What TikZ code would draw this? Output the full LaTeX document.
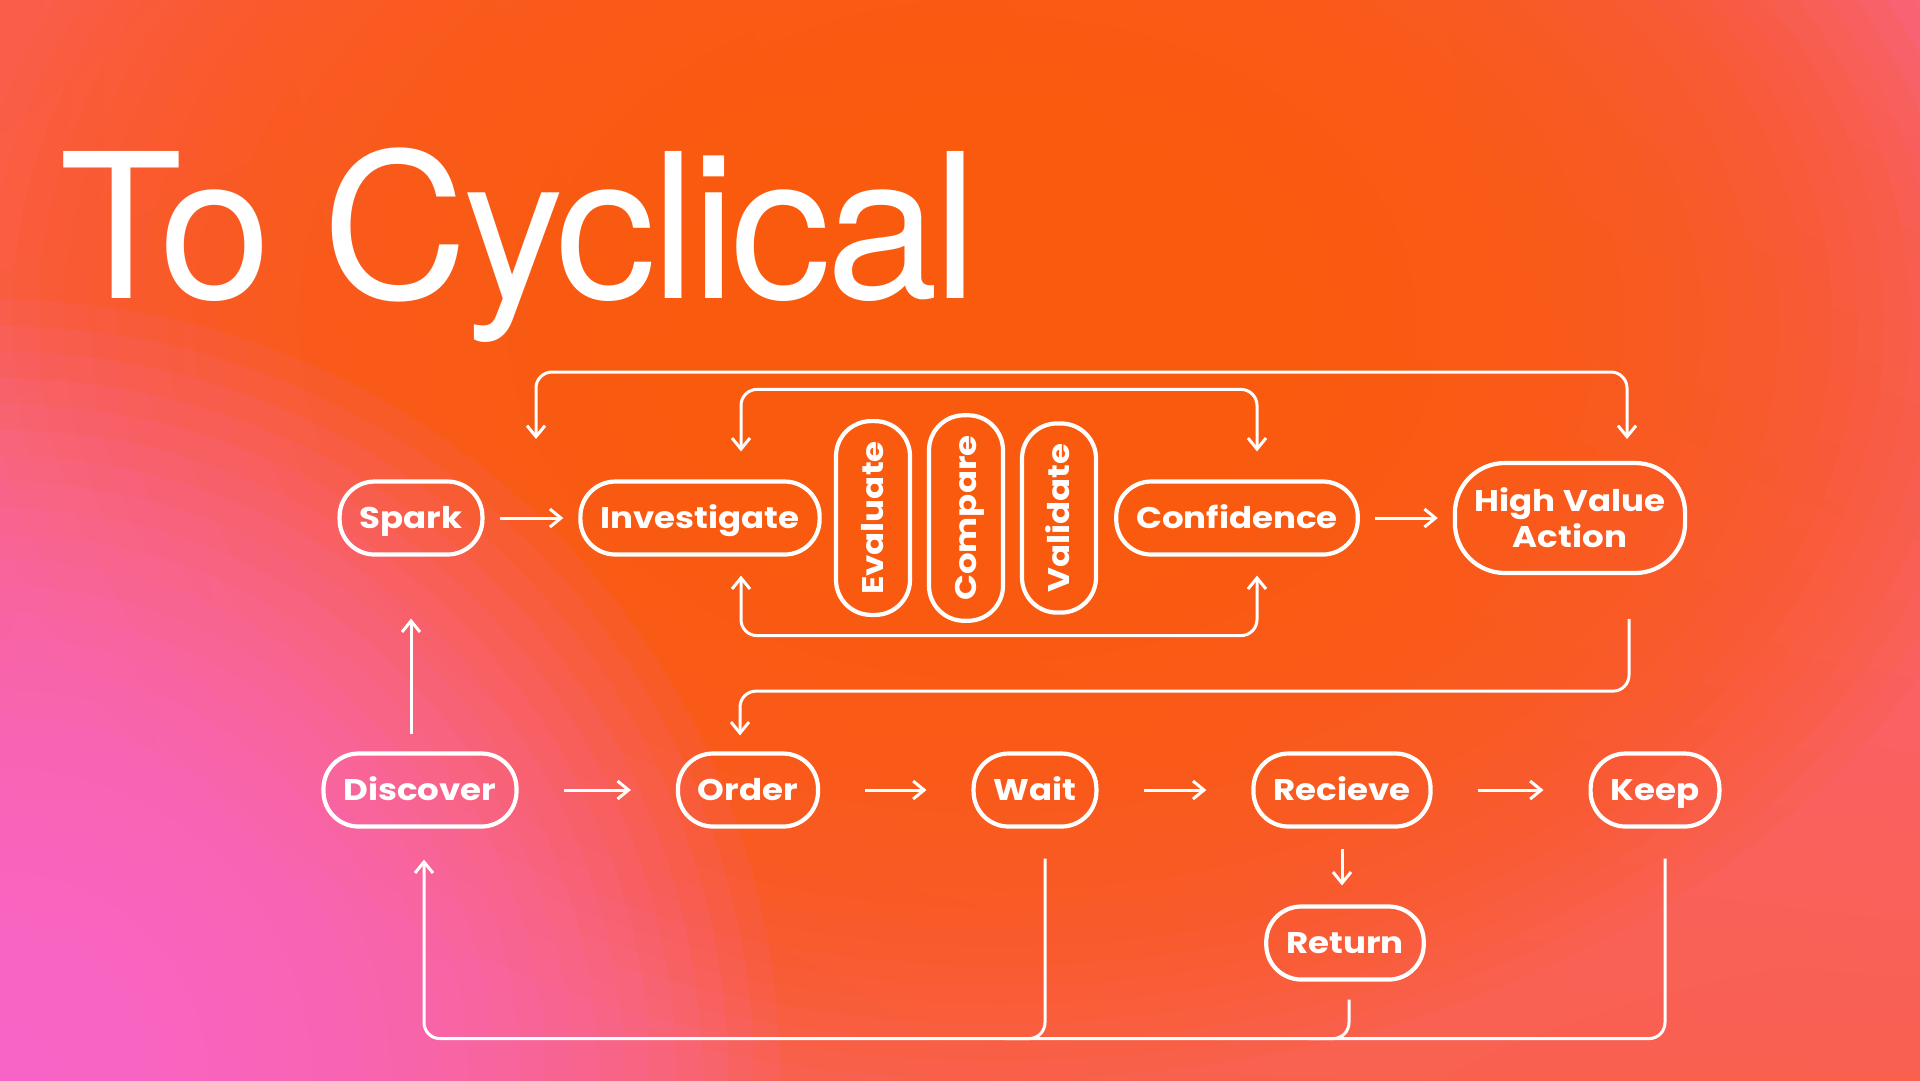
\documentclass[tikz,border=0pt]{standalone}
\usepackage{fontspec}
\usepackage{tikz}
\usetikzlibrary{arrows.meta,shadings}

\newfontfamily\headfont{TeX Gyre Heros}[LetterSpace=-2.5]
\newfontfamily\boxfont{Poppins}[FakeStretch=1.14]

\definecolor{bgtl}{HTML}{FA5E4A}
\definecolor{bgtr}{HTML}{F8648A}
\definecolor{bgbl}{HTML}{F8624E}
\definecolor{bgbr}{HTML}{F96050}
\definecolor{bgorange}{HTML}{FF5A0E}
\definecolor{bgpink}{HTML}{F870D8}

\begin{document}
\begin{tikzpicture}[x=0.1mm, y=-0.1mm, text=white, font=\boxfont\bfseries\fontsize{8.5pt}{10.2pt}\selectfont,
    box/.style = {draw=white, line width=0.42mm, rounded corners=3.5mm, minimum height=7.3mm, inner xsep=2mm, inner ysep=0mm},
    pill/.style = {box, text height=2.1mm, text depth=0mm},
    vpill/.style = {pill, rotate=90, minimum height=7.4mm},
    link/.style = {draw=white, line width=0.3mm, rounded corners=1.6mm},
    arr/.style = {link, -{Straight Barb[length=1.1mm, width=1.8mm]}},
    both/.style = {link, {Straight Barb[length=1.1mm, width=1.8mm]}-{Straight Barb[length=1.1mm, width=1.8mm]}}]
    % background
    \useasboundingbox (0,0) rectangle (1920,1080);
    \begin{scope}
        \clip (0,0) rectangle (1920,1080);
        \shade[upper left=bgtl, upper right=bgtr, lower left=bgbl, lower right=bgbr] (0,0) rectangle (1920,1080);
        \foreach \k in {1,...,40}
            \fill[bgorange, opacity=0.09] (1000,320) ellipse ({26*\k} and {19*\k});
        \foreach \k in {1,...,30}
            \fill[bgpink, opacity=0.08] (0,1080) circle ({26*\k});
    \end{scope}

    \node[anchor=base west, inner sep=0pt, font=\headfont\fontsize{57.4pt}{60pt}\selectfont] (title) at (59,298) {To Cyclical};

    % top row
    \node[pill] (spark) at (411,518) {Spark};
    \node[pill] (investigate) at (700,518) {Investigate};
    \node[vpill] (evaluate) at (873,518) {Evaluate};
    \node[vpill] (compare) at (966,518) {Compare};
    \node[vpill] (validate) at (1059,518) {Validate};
    \node[pill] (confidence) at (1237,518) {Confidence};
    \node[box, minimum height=11mm, rounded corners=5mm, align=center] (hva) at (1570,518) {High Value\\Action};

    % bottom row
    \node[pill] (discover) at (420,790) {Discover};
    \node[pill] (order) at (748,790) {Order};
    \node[pill] (wait) at (1035,790) {Wait};
    \node[pill] (recieve) at (1342,790) {Recieve};
    \node[pill] (keep) at (1655,790) {Keep};
    \node[pill] (return) at (1345,943) {Return};

    \draw[arr, shorten <=1.5mm, shorten >=1.5mm] (spark) -- (investigate);
    \draw[arr, shorten <=1.5mm, shorten >=1.5mm] (confidence) -- (hva);
    \draw[arr, shorten <=4.5mm, shorten >=4.5mm] (discover) -- (order);
    \draw[arr, shorten <=4.5mm, shorten >=4.5mm] (order) -- (wait);
    \draw[arr, shorten <=4.5mm, shorten >=4.5mm] (wait) -- (recieve);
    \draw[arr, shorten <=4.5mm, shorten >=4.5mm] (recieve) -- (keep);
    \draw[arr, shorten <=1.7mm, shorten >=6.2mm] (spark.south |- discover.north) -- (spark.south);
    \draw[arr, shorten <=2mm, shorten >=1.9mm] (recieve.south) -- (recieve.south |- return.north);

    % loops
    \coordinate (bigL) at (536,439);
    \coordinate (bigR) at (1627,439);
    \draw[both] (bigL) -- ++(0,-67) -| (bigR);
    \draw[both] ([xshift=4.1mm, yshift=2.8mm]investigate.north) -- ++(0,-62) -| ([xshift=2mm, yshift=2.8mm]confidence.north);
    \draw[both] ([xshift=4.1mm, yshift=-1.9mm]investigate.south) -- ++(0,60) -| ([xshift=2mm, yshift=-1.9mm]confidence.south);
    \draw[arr] ([xshift=5.9mm, yshift=-4.4mm]hva.south) -- ++(0,72) -| ([xshift=-0.8mm, yshift=1.6mm]order.north);

    \draw[arr] ([xshift=1mm, yshift=-3mm]keep.south) -- ++(0,180) -| ([xshift=0.4mm, yshift=-3.1mm]discover.south);
    \draw[link] ([xshift=1mm, yshift=-3mm]wait.south) -- ++(0,180) -- ++(-40,0);
    \draw[link] ([xshift=0.4mm, yshift=-1.8mm]return.south) -- ++(0,39) -- ++(-40,0);
\end{tikzpicture}
\end{document}
